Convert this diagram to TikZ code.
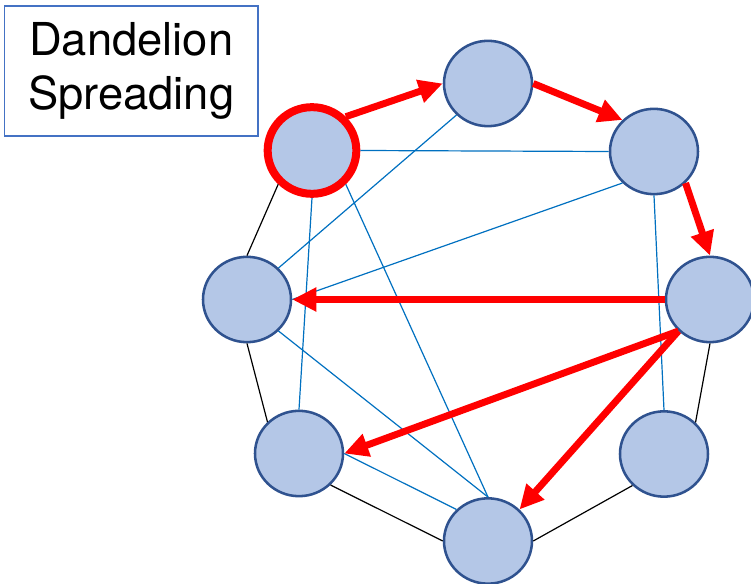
\documentclass[tikz,border=0pt]{standalone}
\usepackage{fontspec}
\setmainfont{TeX Gyre Heros}
\usetikzlibrary{arrows.meta,shapes.geometric}
\definecolor{nodefill}{HTML}{B4C7E7}
\definecolor{nodeline}{HTML}{2F528F}
\definecolor{linkblue}{HTML}{0070C0}
\definecolor{boxblue}{HTML}{4472C4}
\begin{document}
\begin{tikzpicture}[x=0.75pt,y=-0.75pt,
  vertex/.style={ellipse,draw=nodeline,fill=nodefill,line width=1.9pt,
    minimum width=66pt,minimum height=64pt,inner sep=0pt},
  seed/.style={vertex,draw=red,line width=6pt,minimum width=66.5pt,minimum height=65pt},
  ring/.style={black,line width=0.9pt},
  link/.style={linkblue,line width=0.9pt},
  spread/.style={red,line width=5.2pt,-{Triangle[length=18pt,width=17pt]}},
  titlebox/.style={draw=boxblue,line width=1.1pt,minimum width=190pt,minimum height=97.5pt,
    align=center,font=\fontsize{34pt}{40.5pt}\selectfont}]
\useasboundingbox (0,0) rectangle (751,584);

% title
\node[titlebox] (title) at (131.25,71) {Dandelion\\Spreading};

% vertices
\node[seed]   (A) at (312,150.5) {};
\node[vertex] (B) at (488,83.5) {};
\node[vertex] (C) at (654,151.5) {};
\node[vertex] (D) at (710,299.5) {};
\node[vertex] (E) at (247,299.5) {};
\node[vertex] (F) at (299,453.5) {};
\node[vertex] (G) at (664,454) {};
\node[vertex] (H) at (488,541) {};

% outer ring edges
\draw[ring] (A.225) -- (E.90);
\draw[ring] (E.270) -- (F.135);
\draw[ring] (F.-45) -- (H.180);
\draw[ring] (H.0) -- (G.225);
\draw[ring] (G.45) -- (D.270);

% inner links
\draw[link] (A.0) -- (C.180);
\draw[link] (B.225) -- (E.45);
\draw[link] (C.225) -- (E.0);
\draw[link] (A.270) -- (F.90);
\draw[link] (A.-45) -- (H.90);
\draw[link] (E.-45) -- (H.90);
\draw[link] (F.0) -- (H.135);
\draw[link] (C.270) -- (G.90);

% spreading path
\draw[spread] (A.45) -- (B.180);
\draw[spread] (B.0) -- (C.135);
\draw[spread] (C.-45) -- (D.90);
\draw[spread] (D.180) -- (E.0);
\draw[spread] (D.225) -- (F.0);
\draw[spread] (D.225) -- (H.45);
\end{tikzpicture}
\end{document}
